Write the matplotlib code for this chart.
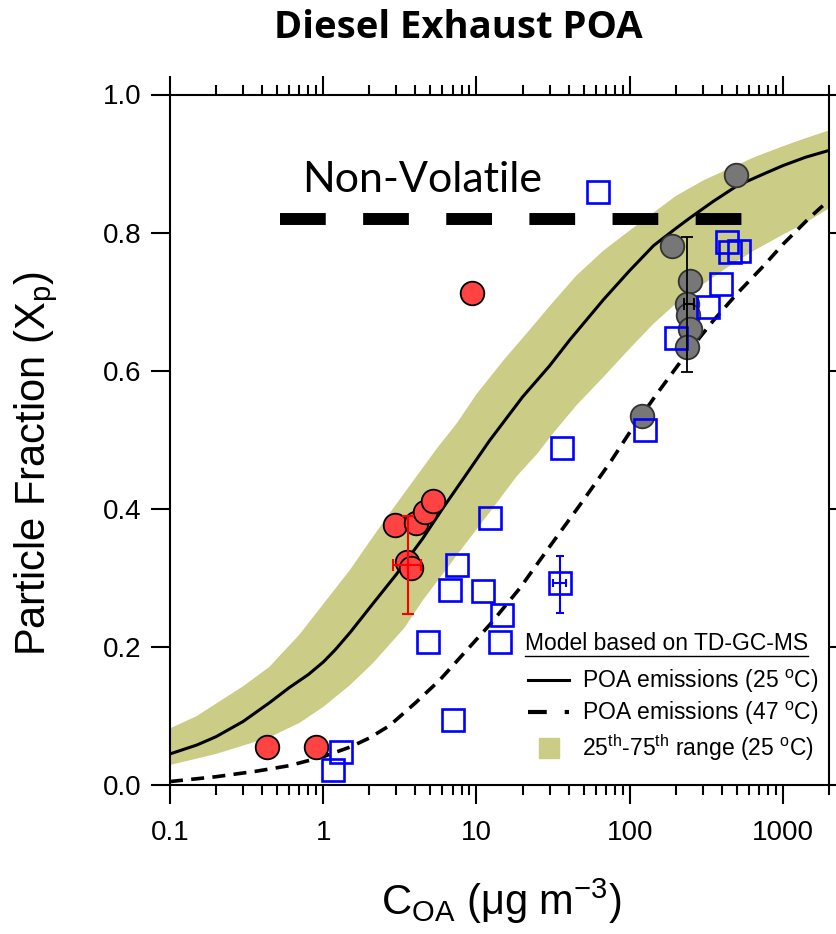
import matplotlib
matplotlib.use("Agg")
import matplotlib.pyplot as plt
from matplotlib.lines import Line2D
from matplotlib.ticker import FixedLocator, LogLocator, NullFormatter, FixedFormatter
import numpy as np

plt.rcParams['font.family'] = ['Liberation Sans', 'DejaVu Sans']
plt.rcParams['mathtext.fontset'] = 'custom'
plt.rcParams['mathtext.rm'] = 'Liberation Sans'
plt.rcParams['mathtext.it'] = 'Liberation Sans:italic'
plt.rcParams['mathtext.bf'] = 'Liberation Sans:bold'
plt.rcParams['mathtext.default'] = 'regular'

# ---------------- data ----------------
# model curve, POA emissions 25 C
solid_x = [0.1, 0.15, 0.2, 0.3, 0.445, 0.6, 0.8, 1.0, 1.2, 1.5, 2.1, 3.0, 4.46, 6.0, 8.0, 12.2,
           20, 30, 40.8, 67.5, 100, 143, 200, 250, 350, 504, 750, 1000, 1400, 2000]
solid_y = [0.045, 0.058, 0.070, 0.092, 0.119, 0.141, 0.160, 0.178, 0.196, 0.221, 0.262, 0.305,
           0.357, 0.400, 0.440, 0.499, 0.562, 0.607, 0.645, 0.703, 0.745, 0.781, 0.806, 0.822,
           0.845, 0.868, 0.885, 0.897, 0.909, 0.919]

# model curve, POA emissions 47 C
dash_x = [0.1, 0.2, 0.366, 0.6, 1.0, 1.5, 2.0, 2.71, 4.0, 5.76, 8.0, 12.2, 19.2, 30, 49.7,
          75, 101, 150, 225, 350, 504, 750, 1000, 1500, 2000]
dash_y = [0.005, 0.012, 0.020, 0.028, 0.041, 0.055, 0.068, 0.086, 0.119, 0.152, 0.187, 0.232,
          0.285, 0.345, 0.412, 0.468, 0.512, 0.566, 0.619, 0.672, 0.712, 0.752, 0.783, 0.822, 0.847]

# 25th-75th range (25 C)
upper_x = [0.1, 0.15, 0.2, 0.3, 0.445, 0.7, 1.0, 1.5, 2.0, 2.7, 4.0, 5.5, 7.45, 10, 15, 22,
           31.8, 45, 67.5, 100, 130, 200, 305, 450, 647, 1000, 1374, 2000]
upper_y = [0.082, 0.100, 0.118, 0.143, 0.171, 0.218, 0.262, 0.312, 0.352, 0.393, 0.445, 0.487,
           0.524, 0.566, 0.615, 0.658, 0.700, 0.738, 0.774, 0.803, 0.822, 0.853, 0.876, 0.893,
           0.909, 0.925, 0.936, 0.948]
lower_x = [0.1, 0.2, 0.445, 0.7, 1.0, 1.5, 2.1, 3.4, 4.48, 6.0, 7.45, 10, 12.2, 18.3, 25,
           31.8, 45, 67.5, 100, 143, 200, 305, 450, 647, 1000, 1374, 2000]
lower_y = [0.029, 0.045, 0.069, 0.090, 0.113, 0.145, 0.176, 0.228, 0.268, 0.305, 0.333, 0.370,
           0.395, 0.447, 0.480, 0.510, 0.550, 0.591, 0.632, 0.668, 0.697, 0.726, 0.752, 0.774,
           0.797, 0.813, 0.835]

# non-volatile reference line
nonvol_x = [0.52, 560]
nonvol_y = [0.819, 0.819]

# red circles
red_x = [0.43, 0.90, 2.93, 4.06, 4.6, 5.21, 3.5, 3.76, 9.33]
red_y = [0.055, 0.055, 0.376, 0.379, 0.395, 0.411, 0.323, 0.314, 0.713]
red_err_x, red_err_y = 3.6, 0.318
red_err_xlo, red_err_xhi = 2.84, 4.37
red_err_ylo, red_err_yhi = 0.247, 0.389

# grey circles
grey_x = [491, 189, 249, 237, 242, 246, 237, 120]
grey_y = [0.884, 0.781, 0.730, 0.697, 0.68, 0.661, 0.634, 0.535]
grey_err_x, grey_err_y = 237, 0.697
grey_err_xlo, grey_err_xhi = 226, 263
grey_err_ylo, grey_err_yhi = 0.598, 0.793

# blue open squares
blue_x = [62.5, 433, 451, 516, 395, 324, 201, 126, 36.2, 12.2, 7.52, 6.77, 10.97,
          14.6, 14.2, 4.81, 7.0, 1.31, 1.15, 35.2]
blue_y = [0.859, 0.786, 0.772, 0.774, 0.726, 0.692, 0.648, 0.514, 0.488, 0.386, 0.318,
          0.282, 0.281, 0.246, 0.207, 0.207, 0.094, 0.048, 0.022, 0.292]
blue_err_x, blue_err_y = 35.2, 0.292
blue_err_xlo, blue_err_xhi = 31.5, 38.3
blue_err_ylo, blue_err_yhi = 0.249, 0.331

xticks = [0.1, 1, 10, 100, 1000]
xticklabels = ['0.1', '1', '10', '100', '1000']
yticks = [0.0, 0.2, 0.4, 0.6, 0.8, 1.0]
yticklabels = ['0.0', '0.2', '0.4', '0.6', '0.8', '1.0']

band_color = '#CBCC86'
red_color = '#FF4242'
grey_color = '#777777'

# ---------------- figure ----------------
W, H = 837, 934
fig = plt.figure(figsize=(W / 100, H / 100), dpi=100)
ax = fig.add_axes([170 / W, 1 - 785 / H, 659 / W, 690.5 / H])
ax.set_xscale('log')
ax.set_xlim(0.1, 2000)
ax.set_ylim(0, 1)

# band: polygon from upper edge and reversed lower edge
poly_x = list(upper_x) + list(lower_x[::-1])
poly_y = list(upper_y) + list(lower_y[::-1])
ax.fill(poly_x, poly_y, color=band_color, lw=0, zorder=1)

ax.plot(solid_x, solid_y, color='black', lw=2.2, zorder=2, solid_joinstyle='round')
ax.plot(dash_x, dash_y, color='black', lw=2.6, ls=(0, (3.6, 2.3)), zorder=2)
ax.plot(nonvol_x, nonvol_y, color='black', lw=8.6, ls=(0, (3.83, 3.13)),
        dash_capstyle='butt', zorder=2)

ax.scatter(red_x, red_y, s=17.0 ** 2, c=red_color, edgecolors='black', linewidths=1.3, zorder=3)
ax.scatter(grey_x, grey_y, s=17.0 ** 2, c=grey_color, edgecolors='#333333', linewidths=1.3, zorder=3)
ax.plot(blue_x, blue_y, ls='none', marker='s', ms=15.5, mfc='none', mec='#0000FF', mew=1.9, zorder=4)

ax.errorbar([red_err_x], [red_err_y],
            xerr=[[red_err_x - red_err_xlo], [red_err_xhi - red_err_x]],
            yerr=[[red_err_y - red_err_ylo], [red_err_yhi - red_err_y]],
            fmt='none', ecolor='#FF0000', elinewidth=1.5, capsize=4.3, capthick=1.5, zorder=5)
ax.errorbar([grey_err_x], [grey_err_y],
            xerr=[[grey_err_x - grey_err_xlo], [grey_err_xhi - grey_err_x]],
            yerr=[[grey_err_y - grey_err_ylo], [grey_err_yhi - grey_err_y]],
            fmt='none', ecolor='black', elinewidth=1.3, capsize=4.0, capthick=1.3, zorder=5)
ax.errorbar([blue_err_x], [blue_err_y],
            xerr=[[blue_err_x - blue_err_xlo], [blue_err_xhi - blue_err_x]],
            yerr=[[blue_err_y - blue_err_ylo], [blue_err_yhi - blue_err_y]],
            fmt='none', ecolor='#0000FF', elinewidth=1.5, capsize=3.2, capthick=1.5, zorder=5)

# axes styling
for sp in ax.spines.values():
    sp.set_linewidth(1.5)
ax.xaxis.set_major_locator(FixedLocator(xticks))
ax.xaxis.set_major_formatter(FixedFormatter(xticklabels))
ax.xaxis.set_minor_locator(LogLocator(base=10, subs=np.arange(2, 10)))
ax.xaxis.set_minor_formatter(NullFormatter())
ax.set_yticks(yticks)
ax.set_yticklabels(yticklabels)
ax.tick_params(which='both', direction='out', top=True, right=True,
               labeltop=False, labelright=False, width=1.5, labelsize=20)
ax.tick_params(which='major', length=13.5)
ax.tick_params(which='minor', length=7)
ax.tick_params(axis='x', which='major', pad=12)
ax.tick_params(axis='y', which='major', pad=7)

# texts
fig.text(458 / W, 1 - 38 / H, 'Diesel Exhaust POA', ha='center', va='baseline',
         fontsize=27.5, fontweight='bold', family=['Open Sans', 'DejaVu Sans'])
fig.text(302 / W, 1 - 192 / H, 'Non-Volatile', ha='left', va='baseline',
         fontsize=31, family=['Lato', 'DejaVu Sans'])
fig.text(36 / W, 1 - 464 / H, 'Particle Fraction (X$_p$)', rotation=90,
         ha='center', va='center', fontsize=30)
fig.text(501 / W, 1 - 915 / H, 'C$_{OA}$ (μg m$^{-3}$)', ha='center', va='baseline',
         fontsize=30)

# legend
leg_title = ax.text((525 - 170) / 659, (785 - 650) / 690.5, 'Model based on TD-GC-MS',
                    transform=ax.transAxes, ha='left', va='baseline', fontsize=16.5, zorder=6)
handles = [Line2D([], [], color='black', lw=2.2),
           Line2D([], [], color='black', lw=3, ls=(0, (4.5, 4.3))),
           Line2D([], [], ls='none', marker='s', ms=14.4, mfc=band_color, mec=band_color)]
labels = ['POA emissions (25 $^{o}$C)', 'POA emissions (47 $^{o}$C)',
          '25$^{th}$-75$^{th}$ range (25 $^{o}$C)']
leg = ax.legend(handles, labels, loc='upper left',
                bbox_to_anchor=((528 - 170) / 659, (785 - 668) / 690.5),
                frameon=False, fontsize=16.5, handlelength=1.8, handletextpad=0.55,
                labelspacing=0.22, borderpad=0, borderaxespad=0)

fig.canvas.draw()
bb = leg_title.get_window_extent()
fig.add_artist(Line2D([bb.x0 / W, bb.x1 / W], [(bb.y0 - 1) / H, (bb.y0 - 1) / H],
                      transform=fig.transFigure, color='black', lw=1.0))

fig.savefig('out.png', dpi=100)
